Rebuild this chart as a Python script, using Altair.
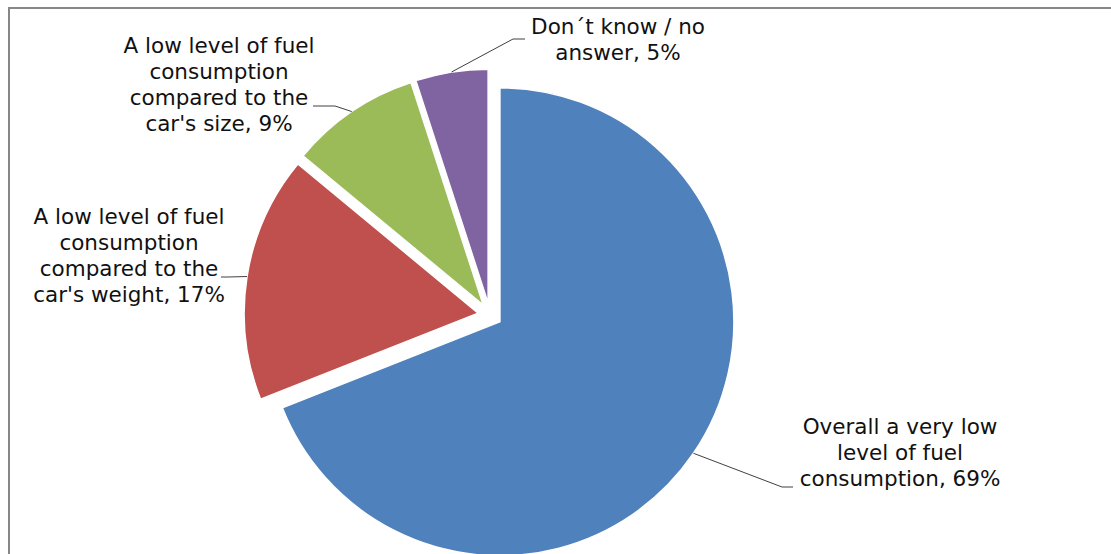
import math
import altair as alt
import pandas as pd

# ---- data ----
categories = [
    "Overall a very low level of fuel consumption",
    "A low level of fuel consumption compared to the car's weight",
    "A low level of fuel consumption compared to the car's size",
    "Don´t know / no answer",
]
values = [69, 17, 9, 5]
label_lines = [
    ["Overall a very low", "level of fuel", "consumption"],
    ["A low level of fuel", "consumption", "compared to the", "car's weight"],
    ["A low level of fuel", "consumption", "compared to the", "car's size"],
    ["Don´t know / no", "answer"],
]
colors = ["#4F81BD", "#C0504D", "#9BBB59", "#8064A2"]

# ---- layout ----
W, H = 1111, 554
CX, CY = 490, 315          # pie centre
R = 234                    # slice radius
EXPLODE = 12               # explosion distance
label_xy = [(900, 428), (129, 218), (219, 47), (618, 28)]        # centre x, first line y
leader_elbow = [(782, 487), (228, 277), (335, 106), (513, 39)]
leader_end = [(793, 487), (221, 277), (313, 106), (525, 39)]
FONT = "DejaVu Sans"
FONT_SIZE = 21.5

total = sum(values)
rows, leader_rows = [], []
cum = 0
for i, (cat, v) in enumerate(zip(categories, values)):
    start, end = cum, cum + v
    cum = end
    mid = (start + end) / 2 / total * 2 * math.pi
    cx = CX + EXPLODE * math.sin(mid)
    cy = CY - EXPLODE * math.cos(mid)
    text = "\n".join(label_lines[i]) + f", {v}%"
    rows.append(dict(category=cat, value=v, start=start, end=end, cx=cx, cy=cy,
                     lx=label_xy[i][0], ly=label_xy[i][1], label=text, order=i))
    sx = cx + R * math.sin(mid)
    sy = cy - R * math.cos(mid)
    pts = [(sx, sy), leader_elbow[i], leader_end[i]]
    for k, (px, py) in enumerate(pts):
        leader_rows.append(dict(category=cat, k=k, px=px, py=py))

df = pd.DataFrame(rows)
ldf = pd.DataFrame(leader_rows)

color_scale = alt.Scale(domain=categories, range=colors)

pie = alt.Chart(df).mark_arc(radius=R, stroke="white", strokeWidth=1.5).encode(
    theta=alt.Theta("start:Q", scale=alt.Scale(domain=[0, total], range=[0, 2 * math.pi])),
    theta2="end:Q",
    x=alt.X("cx:Q", scale=None, axis=None),
    y=alt.Y("cy:Q", scale=None, axis=None),
    color=alt.Color("category:N", scale=color_scale, legend=None),
)

leaders = alt.Chart(ldf).mark_line(color="#404040", strokeWidth=1).encode(
    x=alt.X("px:Q", scale=None, axis=None),
    y=alt.Y("py:Q", scale=None, axis=None),
    detail="category:N",
    order="k:Q",
)

labels = alt.Chart(df).mark_text(
    font=FONT, fontSize=FONT_SIZE, lineHeight=26, align="center", baseline="middle",
    color="#111111", lineBreak="\n",
).encode(
    x=alt.X("lx:Q", scale=None, axis=None),
    y=alt.Y("ly:Q", scale=None, axis=None),
    text="label:N",
)

frame = alt.Chart(df).mark_rect(filled=False, stroke="#878787", strokeWidth=2).encode(
    x=alt.value(9), y=alt.value(8), x2=alt.value(W + 40), y2=alt.value(H + 40)
)

chart = alt.layer(frame, pie, leaders, labels).properties(
    width=W, height=H, padding=0, autosize=alt.AutoSizeParams(type="none"),
    background="white",
).configure_view(stroke=None)

chart.save("out.html", embed_options={"renderer": "svg", "actions": False})
